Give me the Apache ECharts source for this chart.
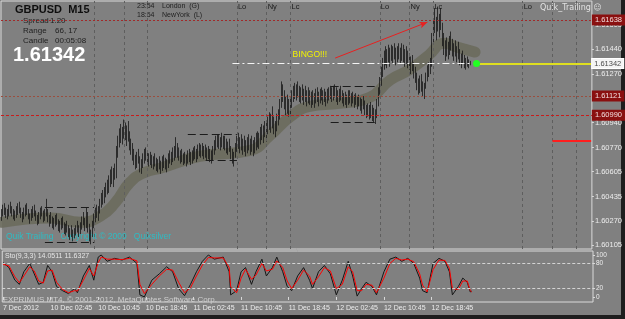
<!DOCTYPE html>
<html>
<head>
<meta charset="utf-8">
<script src="https://cdn.jsdelivr.net/npm/echarts@6/dist/echarts.min.js"></script>
<style>
html, body { margin: 0; padding: 0; background: #808080; }
#chart { width: 625px; height: 319px; }
</style>
</head>
<body>
<div id="chart"></div>
<script>
// GBPUSD M15, bars (index 0 = 7 Dec 2012 18:45)
const lows = [
  1.6027,1.6030,1.6031,1.6029,1.6028,1.6030,1.6032,1.6030,1.6028,1.6027,
  1.6029,1.6031,1.6032,1.6029,1.6026,1.6028,1.6030,1.6031,1.6028,1.6025,
  1.6027,1.6029,1.6030,1.6027,1.6024,1.6025,1.6028,1.6030,1.6026,1.6027,
  1.6030,1.6026,1.6023,1.6025,1.6022,1.6021,1.6023,1.6024,1.6020,1.6019,
  1.6021,1.6022,1.6018,1.6017,1.6019,1.6016,1.6014,1.6016,1.6013,1.6015,
  1.6017,1.6019,1.6016,1.6018,1.6021,1.6024,1.6020,1.6022,1.6019,1.6013,
  1.6011,1.6016,1.6022,1.6026,1.6029,1.6027,1.6032,1.6036,1.6038,1.6039,
  1.6043,1.6045,1.6046,1.6050,1.6052,1.6050,1.6055,1.6056,1.6070,1.6077,
  1.6080,1.6079,1.6083,1.6082,1.6078,1.6081,1.6075,1.6072,1.6068,1.6065,
  1.6062,1.6063,1.6066,1.6060,1.6059,1.6063,1.6066,1.6068,1.6066,1.6064,
  1.6065,1.6063,1.6062,1.6064,1.6061,1.6060,1.6062,1.6059,1.6061,1.6063,
  1.6062,1.6060,1.6063,1.6066,1.6065,1.6067,1.6068,1.6070,1.6070,1.6068,
  1.6066,1.6067,1.6065,1.6066,1.6064,1.6066,1.6067,1.6065,1.6066,1.6068,
  1.6069,1.6067,1.6069,1.6071,1.6070,1.6071,1.6069,1.6070,1.6068,1.6069,
  1.6067,1.6066,1.6068,1.6072,1.6075,1.6077,1.6076,1.6075,1.6077,1.6076,
  1.6075,1.6073,1.6072,1.6074,1.6069,1.6066,1.6064,1.6070,1.6074,1.6076,
  1.6073,1.6075,1.6072,1.6074,1.6071,1.6073,1.6075,1.6072,1.6074,1.6071,
  1.6073,1.6075,1.6077,1.6076,1.6079,1.6082,1.6080,1.6084,1.6081,1.6086,
  1.6089,1.6087,1.6090,1.6086,1.6084,1.6088,1.6092,1.6096,1.6104,1.6108,
  1.6103,1.6099,1.6100,1.6098,1.6099,1.6104,1.6108,1.6110,1.6109,1.6111,
  1.6108,1.6107,1.6109,1.6106,1.6108,1.6105,1.6107,1.6106,1.6104,1.6106,
  1.6104,1.6107,1.6108,1.6105,1.6107,1.6109,1.6106,1.6108,1.6105,1.6107,
  1.6109,1.6110,1.6108,1.6109,1.6111,1.6108,1.6106,1.6108,1.6109,1.6107,
  1.6105,1.6106,1.6104,1.6106,1.6107,1.6105,1.6107,1.6104,1.6106,1.6103,
  1.6105,1.6102,1.6100,1.6103,1.6099,1.6097,1.6098,1.6096,1.6097,1.6095,
  1.6094,1.6093,1.6097,1.6105,1.6113,1.6119,1.6125,1.6130,1.6133,1.6131,
  1.6135,1.6132,1.6136,1.6134,1.6137,1.6133,1.6135,1.6137,1.6134,1.6136,
  1.6135,1.6132,1.6134,1.6131,1.6130,1.6127,1.6129,1.6124,1.6121,1.6116,
  1.6113,1.6114,1.6115,1.6112,1.6110,1.6117,1.6122,1.6125,1.6127,1.6132,
  1.6148,1.6155,1.6150,1.6156,1.6152,1.6157,1.6146,1.6140,1.6136,1.6139,
  1.6137,1.6140,1.6143,1.6139,1.6136,1.6139,1.6135,1.6137,1.6133,1.6131,
  1.6134,1.6131,1.6130,1.6132,1.6131,1.6133
];
const highs = [
  1.6035,1.6038,1.6039,1.6036,1.6035,1.6038,1.6040,1.6037,1.6035,1.6034,
  1.6037,1.6039,1.6040,1.6036,1.6033,1.6036,1.6038,1.6039,1.6035,1.6032,
  1.6035,1.6037,1.6038,1.6034,1.6031,1.6033,1.6036,1.6037,1.6034,1.6035,
  1.6042,1.6035,1.6031,1.6033,1.6030,1.6029,1.6031,1.6032,1.6028,1.6027,
  1.6029,1.6030,1.6026,1.6025,1.6027,1.6024,1.6022,1.6024,1.6021,1.6022,
  1.6024,1.6027,1.6024,1.6026,1.6030,1.6033,1.6029,1.6036,1.6033,1.6025,
  1.6021,1.6027,1.6032,1.6036,1.6038,1.6037,1.6042,1.6046,1.6048,1.6050,
  1.6053,1.6055,1.6058,1.6062,1.6064,1.6063,1.6066,1.6078,1.6085,1.6090,
  1.6093,1.6091,1.6096,1.6094,1.6092,1.6095,1.6088,1.6083,1.6080,1.6076,
  1.6072,1.6074,1.6076,1.6071,1.6069,1.6073,1.6076,1.6077,1.6075,1.6073,
  1.6074,1.6072,1.6071,1.6073,1.6070,1.6069,1.6071,1.6068,1.6071,1.6072,
  1.6070,1.6069,1.6073,1.6075,1.6074,1.6077,1.6078,1.6084,1.6080,1.6077,
  1.6075,1.6076,1.6073,1.6074,1.6072,1.6075,1.6076,1.6074,1.6075,1.6077,
  1.6078,1.6076,1.6079,1.6080,1.6079,1.6080,1.6078,1.6079,1.6077,1.6078,
  1.6076,1.6075,1.6078,1.6082,1.6085,1.6086,1.6086,1.6084,1.6087,1.6085,
  1.6085,1.6083,1.6081,1.6083,1.6078,1.6076,1.6074,1.6080,1.6085,1.6087,
  1.6084,1.6086,1.6083,1.6085,1.6082,1.6084,1.6086,1.6083,1.6085,1.6082,
  1.6084,1.6087,1.6088,1.6087,1.6091,1.6093,1.6092,1.6095,1.6094,1.6098,
  1.6101,1.6100,1.6105,1.6098,1.6095,1.6100,1.6103,1.6110,1.6122,1.6120,
  1.6116,1.6112,1.6113,1.6110,1.6111,1.6116,1.6119,1.6121,1.6120,1.6122,
  1.6119,1.6118,1.6120,1.6117,1.6119,1.6116,1.6118,1.6116,1.6115,1.6116,
  1.6114,1.6117,1.6118,1.6115,1.6117,1.6118,1.6116,1.6117,1.6115,1.6117,
  1.6118,1.6119,1.6118,1.6119,1.6120,1.6118,1.6116,1.6117,1.6119,1.6116,
  1.6114,1.6115,1.6113,1.6116,1.6116,1.6114,1.6115,1.6113,1.6114,1.6112,
  1.6113,1.6111,1.6110,1.6112,1.6109,1.6106,1.6107,1.6106,1.6108,1.6106,
  1.6104,1.6103,1.6110,1.6118,1.6125,1.6132,1.6138,1.6143,1.6146,1.6144,
  1.6147,1.6145,1.6147,1.6146,1.6148,1.6145,1.6146,1.6148,1.6145,1.6148,
  1.6147,1.6144,1.6146,1.6143,1.6141,1.6139,1.6140,1.6135,1.6132,1.6128,
  1.6124,1.6126,1.6127,1.6122,1.6121,1.6128,1.6133,1.6135,1.6138,1.6155,
  1.6165,1.6172,1.6166,1.6173,1.6168,1.6172,1.6162,1.6155,1.6150,1.6152,
  1.6149,1.6153,1.6156,1.6151,1.6148,1.6150,1.6146,1.6149,1.6144,1.6141,
  1.6143,1.6140,1.6138,1.6139,1.6137,1.6136
];
const closes = [
  1.6033,1.6036,1.6034,1.6031,1.6033,1.6037,1.6035,1.6032,1.6030,1.6032,
  1.6035,1.6037,1.6034,1.6030,1.6031,1.6034,1.6036,1.6033,1.6029,1.6030,
  1.6033,1.6035,1.6031,1.6029,1.6027,1.6031,1.6034,1.6032,1.6028,1.6033,
  1.6034,1.6028,1.6029,1.6027,1.6025,1.6027,1.6029,1.6025,1.6022,1.6025,
  1.6027,1.6023,1.6020,1.6023,1.6021,1.6018,1.6020,1.6019,1.6016,1.6018,
  1.6022,1.6021,1.6019,1.6024,1.6028,1.6026,1.6023,1.6031,1.6021,1.6016,
  1.6019,1.6025,1.6030,1.6033,1.6031,1.6035,1.6040,1.6043,1.6041,1.6047,
  1.6050,1.6048,1.6055,1.6058,1.6056,1.6061,1.6059,1.6075,1.6082,1.6086,
  1.6083,1.6088,1.6090,1.6085,1.6089,1.6084,1.6078,1.6075,1.6071,1.6068,
  1.6066,1.6070,1.6068,1.6063,1.6066,1.6070,1.6072,1.6071,1.6068,1.6070,
  1.6067,1.6066,1.6068,1.6065,1.6063,1.6066,1.6064,1.6065,1.6069,1.6066,
  1.6064,1.6067,1.6071,1.6069,1.6072,1.6073,1.6075,1.6076,1.6073,1.6071,
  1.6072,1.6069,1.6070,1.6068,1.6070,1.6073,1.6070,1.6068,1.6072,1.6074,
  1.6071,1.6073,1.6077,1.6074,1.6076,1.6073,1.6075,1.6072,1.6074,1.6071,
  1.6069,1.6072,1.6076,1.6079,1.6081,1.6083,1.6079,1.6082,1.6080,1.6083,
  1.6078,1.6076,1.6078,1.6075,1.6071,1.6069,1.6072,1.6078,1.6080,1.6078,
  1.6082,1.6077,1.6080,1.6076,1.6079,1.6081,1.6078,1.6080,1.6077,1.6079,
  1.6081,1.6083,1.6080,1.6085,1.6088,1.6086,1.6090,1.6087,1.6092,1.6094,
  1.6092,1.6097,1.6094,1.6090,1.6093,1.6097,1.6099,1.6108,1.6117,1.6112,
  1.6106,1.6109,1.6103,1.6101,1.6108,1.6112,1.6115,1.6113,1.6117,1.6114,
  1.6111,1.6115,1.6112,1.6114,1.6110,1.6113,1.6111,1.6109,1.6112,1.6108,
  1.6111,1.6114,1.6110,1.6112,1.6115,1.6111,1.6113,1.6110,1.6112,1.6114,
  1.6116,1.6113,1.6115,1.6117,1.6114,1.6111,1.6113,1.6115,1.6112,1.6109,
  1.6111,1.6108,1.6110,1.6113,1.6109,1.6111,1.6108,1.6110,1.6107,1.6109,
  1.6106,1.6104,1.6107,1.6105,1.6102,1.6100,1.6101,1.6099,1.6102,1.6098,
  1.6097,1.6100,1.6108,1.6116,1.6122,1.6129,1.6134,1.6140,1.6136,1.6141,
  1.6138,1.6143,1.6140,1.6143,1.6141,1.6138,1.6143,1.6140,1.6142,1.6144,
  1.6138,1.6141,1.6137,1.6139,1.6133,1.6136,1.6131,1.6127,1.6124,1.6119,
  1.6117,1.6122,1.6118,1.6115,1.6119,1.6126,1.6129,1.6130,1.6135,1.6152,
  1.6160,1.6158,1.6163,1.6160,1.6164,1.6159,1.6150,1.6143,1.6147,1.6141,
  1.6145,1.6148,1.6146,1.6142,1.6145,1.6141,1.6143,1.6140,1.6136,1.6138,
  1.6136,1.6133,1.6135,1.6134,1.6135,1.61342
];
const firstOpen = 1.6030;

// Quik_Trailing band centre, [bar index, price]
const bandPoints = [
  [0,1.6026],[33,1.6029],[53,1.6026],[66,1.6030],[76,1.6039],[86,1.6053],[96,1.6060],
  [107,1.6063],[133,1.6071],[167,1.6075],[180,1.6085],[194,1.6098],[207,1.6105],
  [227,1.6107],[247,1.6111],[261,1.6123],[274,1.6130],[287,1.6140],[297,1.6148],
  [307,1.6145],[318,1.6142]
];

// Stochastic(9,3,3), [bar index, value]
const stochMain = [
  [0,82],[4,70],[8,40],[11,30],[14,60],[18,80],[21,55],[24,30],[27,35],[30,75],[33,60],
  [36,25],[40,15],[44,8],[48,20],[50,10],[54,50],[58,75],[61,40],[64,95],[66,100],[70,85],
  [75,92],[80,88],[85,95],[90,80],[92,5],[95,0],[100,40],[105,55],[110,72],[114,60],
  [118,20],[122,3],[126,30],[130,60],[134,85],[138,100],[142,90],[148,95],[152,60],
  [153,5],[157,15],[160,60],[163,70],[167,30],[170,60],[174,90],[177,50],[181,70],
  [184,95],[188,60],[191,25],[194,15],[198,50],[202,70],[206,40],[208,20],[212,60],
  [216,75],[220,55],[224,5],[228,40],[232,85],[235,50],[238,2],[241,20],[244,35],
  [248,25],[251,5],[256,60],[260,90],[264,95],[268,85],[272,92],[276,80],[280,45],
  [282,15],[285,10],[289,80],[293,92],[297,85],[300,60],[302,5],[306,25],[309,45],
  [312,35],[314,12],[315,14]
];
const stochSignal = [
  [0,78],[4,74],[8,48],[11,34],[14,50],[18,72],[21,62],[24,38],[27,33],[30,62],[33,64],
  [36,35],[40,18],[44,10],[48,15],[50,14],[54,40],[58,68],[61,50],[64,82],[66,95],[70,90],
  [75,90],[80,89],[85,92],[90,86],[92,30],[95,8],[100,30],[105,50],[110,66],[114,64],
  [118,35],[122,10],[126,22],[130,50],[134,76],[138,94],[142,93],[148,93],[152,70],
  [153,25],[157,10],[160,45],[163,66],[167,42],[170,52],[174,80],[177,62],[181,66],
  [184,86],[188,70],[191,38],[194,20],[198,40],[202,64],[206,50],[208,30],[212,48],
  [216,70],[220,62],[224,20],[228,30],[232,72],[235,60],[238,15],[241,15],[244,30],
  [248,28],[251,10],[256,45],[260,80],[264,92],[268,88],[272,90],[276,84],[280,55],
  [282,28],[285,12],[289,65],[293,88],[297,87],[300,68],[302,20],[306,18],[309,38],
  [312,38],[314,15],[315,12]
];

// axes
const priceTicks = [1.60105, 1.60270, 1.60435, 1.60605, 1.60770, 1.60940, 1.61270, 1.61440, 1.61605];
const xLabels = ['7 Dec 2012', '10 Dec 02:45', '10 Dec 10:45', '10 Dec 18:45', '11 Dec 02:45',
                 '11 Dec 10:45', '11 Dec 18:45', '12 Dec 02:45', '12 Dec 10:45', '12 Dec 18:45'];
const xLabelIdx = [0, 32, 64, 96, 128, 160, 192, 224, 256, 288];
const stochTicks = [0, 20, 80, 100];
const stochLevels = [20, 80];

// chart objects
const sessionIdx = [62, 82, 98, 158, 178, 194, 254, 274, 290, 350, 370, 386];
const sessionLabels = [[158, 'Lo'], [178, 'Ny'], [194, 'Lc'], [254, 'Lo'], [274, 'Ny'], [290, 'Lc'], [350, 'Lo']];
const levelPrices = [1.61638, 1.61121, 1.60990];
const boxLines = [[29, 62, 1.60362], [29, 62, 1.60126], [125, 158, 1.60860], [137, 158, 1.60684],
                  [221, 251, 1.61188], [221, 251, 1.60943]];
const lastPrice = 1.61342;
const dashDotFrom = 155;
const markerIdx = 319;
const arrowFrom = [224, 1.61379];
const arrowTo = [286, 1.61624];
const redMark = [370, 396, 1.60814];
const bingoAt = [207, 1.61400];

const N_SLOTS = 397;
const slots = Array.from({ length: N_SLOTS }, (_, i) => i);
const bars = closes.map((c, i) => [i === 0 ? firstOpen : closes[i - 1], c, lows[i], highs[i]]);

const FONT = '"Liberation Sans", Arial, sans-serif';
const AXIS_TXT = '#ececec';
const FRAME = '#d9d9d9';

function boxLabel(text, bg, fg, border) {
  return {
    show: true, position: 'end', distance: 1, formatter: text,
    backgroundColor: bg, color: fg, fontSize: 7.5, fontFamily: FONT,
    padding: [1, 2, 0, 2], borderColor: border, borderWidth: 1
  };
}

const levelStyles = [
  { color: '#a12a2a', type: [2, 2], width: 1 },
  { color: '#9b4e3e', type: [2, 2], width: 1 },
  { color: '#c81c1c', type: [3, 2], width: 1 }
];

const lineMarks = [];
sessionIdx.forEach(ix => lineMarks.push({
  xAxis: ix, lineStyle: { color: '#5e5e5e', type: [3, 3], width: 1 }, label: { show: false }
}));
levelPrices.forEach((p, k) => lineMarks.push({
  yAxis: p, lineStyle: levelStyles[k], label: boxLabel(p.toFixed(5), '#8a1010', '#f2dede', '#8a1010')
}));
boxLines.forEach(b => lineMarks.push([
  { coord: [b[0], b[2]], lineStyle: { color: '#1c1c1c', type: [8, 4], width: 1 }, label: { show: false } },
  { coord: [b[1], b[2]] }
]));
lineMarks.push([
  { coord: [dashDotFrom, lastPrice], lineStyle: { color: '#f4f4f4', type: [7, 3, 2, 3], width: 1 }, label: { show: false } },
  { coord: [bars.length - 1, lastPrice] }
]);
lineMarks.push([
  { coord: [markerIdx, lastPrice], lineStyle: { color: '#ffff00', type: 'solid', width: 1.6 },
    label: boxLabel(lastPrice.toFixed(5), '#f4f4f4', '#4a4a4a', '#ffffff') },
  { coord: [N_SLOTS - 1, lastPrice] }
]);
lineMarks.push([
  { coord: arrowFrom, symbol: 'none', lineStyle: { color: '#e82020', type: 'solid', width: 1 }, label: { show: false } },
  { coord: arrowTo, symbol: 'arrow', symbolSize: [5, 8] }
]);
lineMarks.push([
  { coord: [redMark[0], redMark[2]], lineStyle: { color: '#ff1e1e', type: 'solid', width: 2 }, label: { show: false } },
  { coord: [redMark[1], redMark[2]] }
]);

const pointMarks = [
  { coord: [markerIdx, lastPrice], symbol: 'circle', symbolSize: 7, itemStyle: { color: '#22ff22' }, label: { show: false } },
  { coord: bingoAt, symbol: 'circle', symbolSize: 0,
    label: { show: true, formatter: 'BINGO!!!', color: '#f2f200', fontSize: 8.5, fontFamily: FONT } }
];
sessionLabels.forEach(s => pointMarks.push({
  coord: [s[0], 1.61725], symbol: 'circle', symbolSize: 0,
  label: { show: true, position: 'right', distance: 1, formatter: s[1], color: '#1a1a1a', fontSize: 7.5, fontFamily: FONT }
}));

const chart = echarts.init(document.getElementById('chart'), null, { renderer: 'canvas' });

chart.setOption({
  animation: false,
  backgroundColor: '#808080',
  grid: [
    { left: 1, right: 32, top: 1, height: 248, show: true, borderColor: FRAME, borderWidth: 1, backgroundColor: 'transparent' },
    { left: 1, right: 32, top: 251, height: 51, show: true, borderColor: FRAME, borderWidth: 1, backgroundColor: 'transparent' }
  ],
  xAxis: [
    { type: 'category', gridIndex: 0, data: slots, boundaryGap: true, show: false },
    {
      type: 'category', gridIndex: 1, data: slots, boundaryGap: true,
      axisLine: { show: false },
      axisTick: { show: true, interval: i => xLabelIdx.includes(i), alignWithLabel: true, length: 3, lineStyle: { color: FRAME } },
      axisLabel: {
        interval: i => xLabelIdx.includes(i), align: 'left', margin: 3,
        formatter: (v, i) => xLabels[xLabelIdx.indexOf(i)], color: AXIS_TXT, fontSize: 7, fontFamily: FONT
      },
      splitLine: { show: false }
    }
  ],
  yAxis: [
    {
      type: 'value', gridIndex: 0, position: 'right', min: 1.60078, max: 1.61768, scale: true,
      axisLine: { show: false },
      axisTick: { show: true, customValues: priceTicks, length: 2, inside: false, lineStyle: { color: FRAME } },
      axisLabel: { customValues: priceTicks, formatter: v => v.toFixed(5), margin: 3, color: AXIS_TXT, fontSize: 7.5, fontFamily: FONT },
      splitLine: { show: false }
    },
    {
      type: 'value', gridIndex: 1, position: 'right', min: -12, max: 109.5,
      axisLine: { show: false },
      axisTick: { show: true, customValues: stochTicks, length: 2, lineStyle: { color: FRAME } },
      axisLabel: { customValues: stochTicks, margin: 3, color: AXIS_TXT, fontSize: 6.5, fontFamily: FONT },
      splitLine: { show: false }
    }
  ],
  series: [
    {
      name: 'Quik_Trailing', type: 'line', xAxisIndex: 0, yAxisIndex: 0, data: bandPoints,
      smooth: 0.5, symbol: 'none', z: 1,
      lineStyle: { color: '#6a6a5a', width: 11, opacity: 0.85, cap: 'round' }
    },
    {
      name: 'GBPUSD', type: 'candlestick', xAxisIndex: 0, yAxisIndex: 0, data: bars,
      barWidth: 1, z: 3,
      itemStyle: { color: '#161616', color0: '#161616', borderColor: '#161616', borderColor0: '#161616', borderWidth: 0.8 },
      markLine: { silent: true, symbol: ['none', 'none'], precision: 5, data: lineMarks },
      markPoint: { silent: true, data: pointMarks }
    },
    {
      name: 'Main', type: 'line', xAxisIndex: 1, yAxisIndex: 1, data: stochMain,
      symbol: 'none', z: 3, lineStyle: { color: '#161616', width: 1 },
      markLine: {
        silent: true, symbol: ['none', 'none'],
        data: stochLevels.map(v => ({ yAxis: v, lineStyle: { color: '#d4d4d4', type: [3, 2], width: 1 }, label: { show: false } }))
      }
    },
    {
      name: 'Signal', type: 'line', xAxisIndex: 1, yAxisIndex: 1, data: stochSignal,
      symbol: 'none', z: 4, lineStyle: { color: '#ff0000', width: 1 }
    }
  ],
  graphic: [
    { type: 'rect', shape: { x: 621, y: 0, width: 4, height: 319 }, style: { fill: '#1e1e1e' }, silent: true },
    { type: 'rect', shape: { x: 0, y: 315, width: 625, height: 4 }, style: { fill: '#1e1e1e' }, silent: true },
    { type: 'text', x: 15, y: 4, style: { text: 'GBPUSD  M15', fill: '#0e0e0e', font: 'bold 11px ' + FONT } },
    { type: 'text', x: 23, y: 17, style: { text: 'Spread', fill: '#1e1e1e', font: '8px ' + FONT } },
    { type: 'text', x: 50, y: 17, style: { text: '1.20', fill: '#1e1e1e', font: '8px ' + FONT } },
    { type: 'text', x: 23, y: 27, style: { text: 'Range', fill: '#1e1e1e', font: '8px ' + FONT } },
    { type: 'text', x: 55, y: 27, style: { text: '66, 17', fill: '#1e1e1e', font: '8px ' + FONT } },
    { type: 'text', x: 23, y: 37, style: { text: 'Candle', fill: '#1e1e1e', font: '8px ' + FONT } },
    { type: 'text', x: 55, y: 37, style: { text: '00:05:08', fill: '#1e1e1e', font: '8px ' + FONT } },
    { type: 'text', x: 13, y: 45, style: { text: '1.61342', fill: '#ffffff', font: 'bold 20px ' + FONT } },
    { type: 'text', x: 137, y: 3, style: { text: '23:54', fill: '#1e1e1e', font: '7px ' + FONT } },
    { type: 'text', x: 162, y: 3, style: { text: 'London  (G)', fill: '#1e1e1e', font: '7px ' + FONT } },
    { type: 'text', x: 137, y: 12, style: { text: '18:54', fill: '#1e1e1e', font: '7px ' + FONT } },
    { type: 'text', x: 162, y: 12, style: { text: 'NewYork  (L)', fill: '#1e1e1e', font: '7px ' + FONT } },
    { type: 'text', x: 540, y: 4, style: { text: 'Quik_Trailing \u263A', fill: '#e2e2e2', font: '8px "DejaVu Sans", ' + FONT } },
    { type: 'text', x: 6, y: 232, style: { text: 'Quik Trailing   Copyright \u00A9 2009   Quiksilver', fill: '#2dbcc4', font: '8.5px ' + FONT } },
    { type: 'text', x: 5, y: 253, style: { text: 'Sto(9,3,3) 14.0511 11.6327', fill: '#e6e6e6', font: '7px ' + FONT } },
    { type: 'text', x: 3, y: 296, style: { text: 'FXPRIMUS MT4, \u00A9 2001-2012, MetaQuotes Software Corp.', fill: '#cfcfcf', font: '8px ' + FONT } }
  ]
});
</script>
</body>
</html>
